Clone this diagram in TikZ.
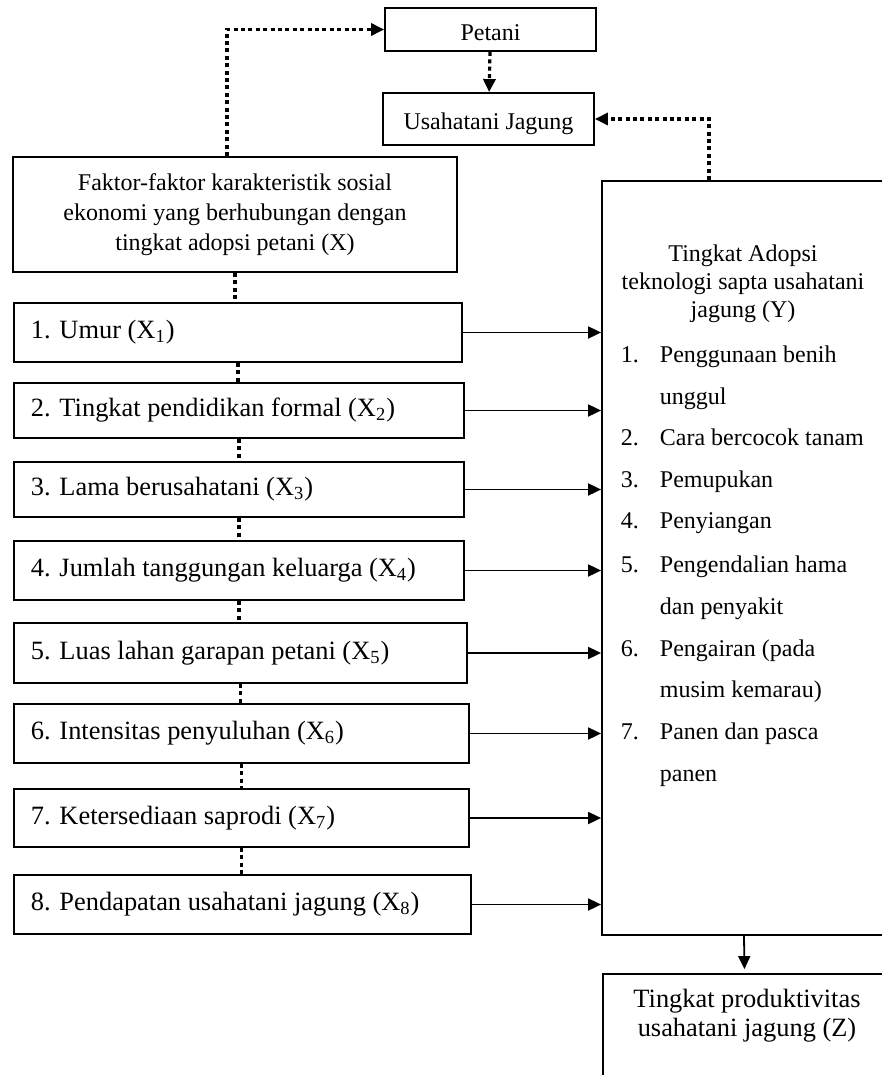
\documentclass[tikz,border=0pt]{standalone}
\usepackage{fontspec}
\setmainfont{Liberation Serif}
\usetikzlibrary{arrows.meta}
\tikzstyle{box} = [rectangle, draw, inner sep=0pt]
\tikzstyle{topbox} = [box, text height=11pt, text depth=0pt]
\tikzstyle{xbox} = [box, anchor=west, inner xsep=8.5pt, font=\fontsize{13.2}{15}\selectfont]
\tikzstyle{item} = [anchor=base west, inner sep=0pt]
\tikzstyle{link} = [dash pattern=on 2pt off 1.7pt, line width=1.6pt]

\begin{document}
\begin{tikzpicture}[x=0.5pt,y=-0.5pt,>={Triangle[length=6.5pt,width=6pt]},line width=0.9pt,font=\fontsize{12}{14}\selectfont]
  \useasboundingbox (0,0) rectangle (882,1075);
  \clip (0,0) rectangle (882,1075);

  \node[topbox, minimum width=105.5pt, minimum height=21.5pt] (petani) at (490.5,29.5) {Petani};
  \node[topbox, minimum width=105.5pt, minimum height=26pt] (usaha) at (488.5,119) {Usahatani Jagung};
  \node[box, align=center, minimum width=222pt, minimum height=57.5pt, font=\fontsize{12}{15}\selectfont] (faktor) at (235,214.5)
    {Faktor-faktor karakteristik sosial\\ ekonomi yang berhubungan dengan\\ tingkat adopsi petani (X)};

  % faktor X1..X8
  \node[xbox, minimum height=29.5pt] (x1) at (13,332.5) {\makebox[207pt][l]{1. Umur (X\textsubscript{1})}};
  \node[xbox, minimum height=27.5pt] (x2) at (13,410.5) {\makebox[208pt][l]{2. Tingkat pendidikan formal (X\textsubscript{2})}};
  \node[xbox, minimum height=27.5pt] (x3) at (13,489.5) {\makebox[208pt][l]{3. Lama berusahatani (X\textsubscript{3})}};
  \node[xbox, minimum height=29.5pt] (x4) at (13,570.5) {\makebox[208pt][l]{4. Jumlah tanggungan keluarga (X\textsubscript{4})}};
  \node[xbox, minimum height=30pt] (x5) at (13,653) {\makebox[209.5pt][l]{5. Luas lahan garapan petani (X\textsubscript{5})}};
  \node[xbox, minimum height=29.5pt] (x6) at (13,733.5) {\makebox[210.5pt][l]{6. Intensitas penyuluhan (X\textsubscript{6})}};
  \node[xbox, minimum height=29pt] (x7) at (13,818) {\makebox[210.5pt][l]{7. Ketersediaan saprodi (X\textsubscript{7})}};
  \node[xbox, minimum height=29.5pt] (x8) at (13,904.5) {\makebox[211.5pt][l]{8. Pendapatan usahatani jagung (X\textsubscript{8})}};

  % tingkat adopsi Y
  \node[box, minimum width=142pt, minimum height=377pt] (Y) at (744,558) {};
  \node[align=center] (ytitle) at (743,284) {Tingkat Adopsi\\ teknologi sapta usahatani\\ jagung (Y)};
  \node[item] (y1) at (620,362) {\makebox[19.5pt][l]{1.}Penggunaan benih};
  \node[item] (y1b) at (659,404) {unggul};
  \node[item] (y2) at (620,445) {\makebox[19.5pt][l]{2.}Cara bercocok tanam};
  \node[item] (y3) at (620,487) {\makebox[19.5pt][l]{3.}Pemupukan};
  \node[item] (y4) at (620,528) {\makebox[19.5pt][l]{4.}Penyiangan};
  \node[item] (y5) at (620,572) {\makebox[19.5pt][l]{5.}Pengendalian hama};
  \node[item] (y5b) at (659,614) {dan penyakit};
  \node[item] (y6) at (620,656) {\makebox[19.5pt][l]{6.}Pengairan (pada};
  \node[item] (y6b) at (659,697) {musim kemarau)};
  \node[item] (y7) at (620,739) {\makebox[19.5pt][l]{7.}Panen dan pasca};
  \node[item] (y7b) at (659,781) {panen};

  % produktivitas Z
  \node[box, minimum width=141.5pt, minimum height=54pt] (Z) at (744.5,1028) {};
  \node[align=center, font=\fontsize{13.2}{14.5}\selectfont] (zlabel) at (747,1016) {Tingkat produktivitas\\ usahatani jagung (Z)};

  \draw[link,->] ([xshift=-4pt]faktor.north) |- (petani.west);
  \draw[link,->] (petani) -- (usaha);
  \draw[link,->] ([xshift=-17.5pt]Y.north) |- (usaha.east);
  \draw[link] (faktor.south) -- (faktor.south |- x1.north);
  \draw[link] (x1.south) -- (x1.south |- x2.north);
  \draw[link] (x2.south) -- (x2.south |- x3.north);
  \draw[link] (x3.south) -- (x3.south |- x4.north);
  \draw[link] (x4.south) -- (x4.south |- x5.north);
  \draw[link] (x5.south) -- (x5.south |- x6.north);
  \draw[link] (x6.south) -- (x6.south |- x7.north);
  \draw[link] (x7.south) -- (x7.south |- x8.north);

  \draw[->] (x1.east) -- (x1.east -| Y.west);
  \draw[->] (x2.east) -- (x2.east -| Y.west);
  \draw[->] (x3.east) -- (x3.east -| Y.west);
  \draw[->] (x4.east) -- (x4.east -| Y.west);
  \draw[->] (x5.east) -- (x5.east -| Y.west);
  \draw[->] (x6.east) -- (x6.east -| Y.west);
  \draw[->] (x7.east) -- (x7.east -| Y.west);
  \draw[->] (x8.east) -- (x8.east -| Y.west);
  \draw[->, shorten >=2pt] (Y.south) -- (Z.north);
\end{tikzpicture}
\end{document}
